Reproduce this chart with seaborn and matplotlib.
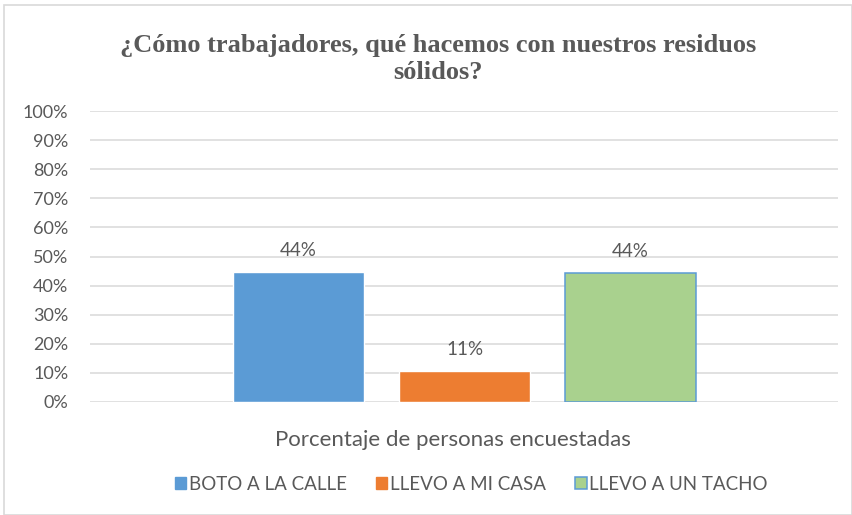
import pandas as pd
import seaborn as sns
import matplotlib.pyplot as plt
from matplotlib.patches import Rectangle, Patch

# data
categorias = ['BOTO A LA CALLE', 'LLEVO A MI CASA', 'LLEVO A UN TACHO']
valores = [0.447, 0.107, 0.443]
etiquetas = ['44%', '11%', '44%']
grupo = ['Porcentaje de personas encuestadas'] * 3
yticks = [0.0, 0.1, 0.2, 0.3, 0.4, 0.5, 0.6, 0.7, 0.8, 0.9, 1.0]
ytick_labels = ['0%', '10%', '20%', '30%', '40%', '50%', '60%', '70%', '80%', '90%', '100%']

colores = ['#5B9BD5', '#ED7D31', '#A9D18E']
gris = '#595959'

sns.set_theme(style='white')
plt.rcParams['font.family'] = ['Lato', 'DejaVu Sans']

df = pd.DataFrame({'grupo': grupo, 'categoria': categorias, 'valor': valores})

W, H = 852, 515
fig = plt.figure(figsize=(W / 100, H / 100), dpi=100)
ax = fig.add_axes([90 / W, 1 - 402 / H, (838 - 90) / W, (402 - 111) / H])

sns.barplot(data=df, x='grupo', y='valor', hue='categoria', hue_order=categorias,
            palette=colores, width=0.9, gap=0.21, saturation=1, ax=ax, legend=False)

# green bar has a blue outline in the original
bars = ax.patches
bars[2].set_edgecolor('#5B9BD5')
bars[2].set_linewidth(1.1)

for b, lab in zip(bars, etiquetas):
    ax.text(b.get_x() + b.get_width() / 2, b.get_height() + 0.055, lab,
            ha='center', va='baseline', fontsize=13.5, color=gris)

ax.set_ylim(0, 1)
px = 0.3 / 166
ax.set_xlim(-(464.5 - 90) * px, (838 - 464.5) * px)
ax.set_yticks(yticks)
ax.set_yticklabels(ytick_labels, fontsize=13, color=gris)
ax.tick_params(axis='y', length=0, pad=15.5)
ax.set_xticks([])
ax.set_xlabel('')
ax.set_ylabel('')
ax.yaxis.grid(True, color='#D9D9D9', linewidth=1.1)
ax.set_axisbelow(True)
for s in ax.spines.values():
    s.set_visible(False)

fig.text(438 / W, 1 - 59 / H,
         '¿Cómo trabajadores, qué hacemos con nuestros residuos\nsólidos?',
         ha='center', va='center', fontsize=19, fontweight='bold',
         family='Liberation Serif', color=gris, linespacing=1.2)

fig.text(453 / W, 1 - 440 / H, 'Porcentaje de personas encuestadas',
         ha='center', va='center', fontsize=16, color=gris)

handles = [Patch(facecolor=colores[0], edgecolor=colores[0]),
           Patch(facecolor=colores[1], edgecolor=colores[1]),
           Patch(facecolor=colores[2], edgecolor='#5B9BD5', linewidth=1.1)]
fig.legend(handles, categorias, loc='center', bbox_to_anchor=(471.5 / W, 1 - 484 / H),
           ncol=3, frameon=False, fontsize=13.5, labelcolor=gris,
           handlelength=0.6, handleheight=0.6, handletextpad=0.15,
           columnspacing=1.55, borderaxespad=0, borderpad=0)

fig.patches.append(Rectangle((4 / W, 0), 1 - 4 / W, 1 - 5 / H, transform=fig.transFigure,
                             fill=False, edgecolor='#D9D9D9', linewidth=1.2))

plt.savefig('out.png', dpi=100)
plt.close()
